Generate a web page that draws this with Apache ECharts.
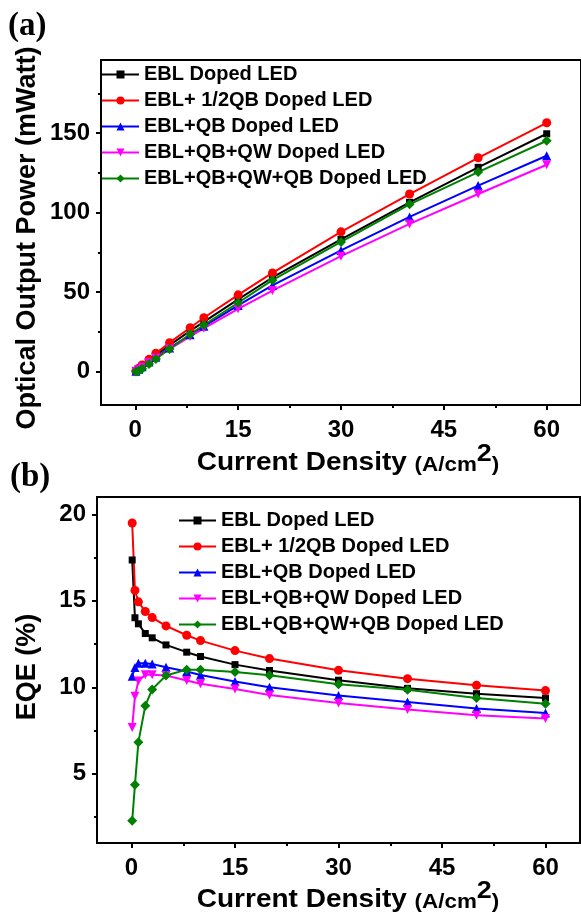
<!DOCTYPE html>
<html>
<head>
<meta charset="utf-8">
<title>LED power and EQE</title>
<script src="https://cdn.jsdelivr.net/npm/echarts@6/dist/echarts.min.js"></script>
<style>
  html, body { margin: 0; width: 100%; height: 100%; background: #fff; }
  #main { width: 581px; height: 917px; }
</style>
</head>
<body>
<div id="main"></div>
<script>
// current density (A/cm2)
var current = [0.1, 0.5, 1, 2, 3, 5, 8, 10, 15, 20, 30, 40, 50, 60];

var seriesNames = ['EBL Doped LED', 'EBL+ 1/2QB Doped LED', 'EBL+QB Doped LED',
                   'EBL+QB+QW Doped LED', 'EBL+QB+QW+QB Doped LED'];

// optical output power (mWatt)
var powerEBL    = [0.46, 1.9, 3.6, 7.0, 10.3, 16.6, 25.6, 31.3, 45.4, 59.2, 83.1, 106.5, 128.5, 149.6];
var powerHalfQB = [0.5, 2.1, 4.2, 7.7, 11.5, 18.2, 27.6, 33.9, 48.3, 62.1, 87.9, 111.7, 134.5, 156.5];
var powerQB     = [0.28, 1.48, 3.03, 6.05, 9.06, 14.8, 23.2, 28.5, 41.6, 54.2, 76.2, 97.3, 117, 135.8];
var powerQBQW   = [0.2, 1.26, 2.76, 5.71, 8.55, 14.2, 22.1, 27.2, 39.5, 51, 72.6, 92.9, 111.7, 130.1];
var powerQBQWQB = [0.06, 0.58, 1.82, 4.76, 7.9, 14.2, 23.5, 29.3, 43.3, 57.5, 81.6, 105.2, 125.5, 145.2];

// EQE (%)
var eqeEBL    = [17.36, 14.02, 13.67, 13.11, 12.86, 12.45, 12.03, 11.78, 11.31, 10.97, 10.41, 9.94, 9.63, 9.38];
var eqeHalfQB = [19.5, 15.6, 14.94, 14.38, 14.03, 13.55, 13.01, 12.7, 12.12, 11.66, 10.98, 10.5, 10.12, 9.81];
var eqeQB     = [10.64, 11.14, 11.39, 11.39, 11.35, 11.16, 10.91, 10.71, 10.33, 10.0, 9.52, 9.15, 8.78, 8.51];
var eqeQBQW   = [7.68, 9.48, 10.37, 10.73, 10.73, 10.68, 10.39, 10.21, 9.9, 9.56, 9.09, 8.71, 8.38, 8.19];
var eqeQBQWQB = [2.28, 4.36, 6.83, 8.94, 9.88, 10.68, 11.02, 11.02, 10.89, 10.7, 10.17, 9.86, 9.38, 9.05];

var xTicks = [0, 15, 30, 45, 60];
var xMinor = [7.5, 22.5, 37.5, 52.5];
var powerTicks = [0, 50, 100, 150];
var powerMinor = [25, 75, 125, 175];
var eqeTicks = [5, 10, 15, 20];
var eqeMinor = [2.5, 7.5, 12.5, 17.5];

var colors = ['#000000', '#ff0000', '#0000ff', '#ff00ff', '#008000'];
var symbols = ['rect', 'circle', 'triangle', 'path://M0,0 L10,0 L5,9 Z', 'diamond'];
var symbolSizes = [7, 9, 9, 9, 10];

var FONT = '"Liberation Sans", Arial, sans-serif';

function pairs(ys) {
  return current.map(function (x, i) { return [x, ys[i]]; });
}

function makeSeries(list, axisIndex) {
  return list.map(function (ys, i) {
    return {
      name: seriesNames[i],
      type: 'line',
      xAxisIndex: axisIndex * 2,
      yAxisIndex: axisIndex * 2,
      data: pairs(ys),
      symbol: symbols[i],
      symbolSize: symbolSizes[i],
      showAllSymbol: true,
      color: colors[i],
      lineStyle: { width: 2, color: colors[i] },
      itemStyle: { color: colors[i] },
      animation: false
    };
  });
}

function xAxes(grid) {
  return [{
    type: 'value', gridIndex: grid, min: -5, max: 65, position: 'bottom',
    splitLine: { show: false },
    axisLine: { onZero: false, lineStyle: { color: '#000', width: 2 } },
    axisTick: { customValues: xTicks, length: 5, lineStyle: { color: '#000', width: 2 } },
    axisLabel: { customValues: xTicks, margin: 13, color: '#000', fontSize: 24, fontWeight: 'bold', fontFamily: FONT }
  }, {
    type: 'value', gridIndex: grid, min: -5, max: 65, position: 'bottom',
    splitLine: { show: false },
    axisLine: { show: false, onZero: false },
    axisTick: { customValues: xMinor, length: 3, lineStyle: { color: '#000', width: 2 } },
    axisLabel: { show: false }
  }];
}

function yAxes(grid, min, max, ticks, minor) {
  return [{
    type: 'value', gridIndex: grid, min: min, max: max, position: 'left',
    splitLine: { show: false },
    axisLine: { onZero: false, lineStyle: { color: '#000', width: 2 } },
    axisTick: { customValues: ticks, length: 5, lineStyle: { color: '#000', width: 2 } },
    axisLabel: { customValues: ticks, margin: 11, color: '#000', fontSize: 24, fontWeight: 'bold', fontFamily: FONT }
  }, {
    type: 'value', gridIndex: grid, min: min, max: max, position: 'left',
    splitLine: { show: false },
    axisLine: { show: false, onZero: false },
    axisTick: { customValues: minor, length: 3, lineStyle: { color: '#000', width: 2 } },
    axisLabel: { show: false }
  }];
}

function legend(left, top) {
  return {
    orient: 'vertical', left: left, top: top, padding: 0,
    data: seriesNames,
    itemWidth: 37, itemHeight: 10, itemGap: 5,
    textStyle: { color: '#000', fontSize: 20, fontWeight: 'bold', fontFamily: FONT, lineHeight: 21 }
  };
}

function xTitle(y) {
  return {
    type: 'text', x: 348, y: y, scaleX: 1.12,
    style: {
      text: '{a|Current Density }{b|(A/cm}{c|2}{b|)}',
      align: 'center', verticalAlign: 'middle',
      rich: {
        a: { fontSize: 25, fontWeight: 'bold', fontFamily: FONT, fill: '#000', verticalAlign: 'bottom' },
        b: { fontSize: 20, fontWeight: 'bold', fontFamily: FONT, fill: '#000', verticalAlign: 'bottom' },
        c: { fontSize: 24, fontWeight: 'bold', fontFamily: FONT, fill: '#000', verticalAlign: 'bottom', padding: [0, 0, 9, 0] }
      }
    }
  };
}

function yTitle(text, y) {
  return {
    type: 'text', x: 28, y: y, rotation: Math.PI / 2,
    style: {
      text: text, align: 'center', verticalAlign: 'middle',
      fontSize: 27, fontWeight: 'bold', fontFamily: FONT, fill: '#000'
    }
  };
}

var chart = echarts.init(document.getElementById('main'), null, { renderer: 'canvas' });

var option = {
  backgroundColor: '#fff',
  animation: false,
  grid: [
    { left: 101, top: 60, width: 486, height: 345, show: true, borderColor: '#000', borderWidth: 2 },
    { left: 97, top: 497, width: 483, height: 346, show: true, borderColor: '#000', borderWidth: 2 }
  ],
  xAxis: xAxes(0).concat(xAxes(1)),
  yAxis: yAxes(0, -21, 196, powerTicks, powerMinor).concat(yAxes(1, 1, 21, eqeTicks, eqeMinor)),
  legend: [legend(101, 64), legend(178, 510)],
  series: makeSeries([powerEBL, powerHalfQB, powerQB, powerQBQW, powerQBQWQB], 0)
    .concat(makeSeries([eqeEBL, eqeHalfQB, eqeQB, eqeQBQW, eqeQBQWQB], 1)),
  graphic: [
    { type: 'text', left: 8, top: 10, style: { text: '(a)', fontSize: 33, fontWeight: 'bold', fontFamily: '"Liberation Serif", "Times New Roman", serif', fill: '#000' } },
    { type: 'text', left: 10, top: 461, style: { text: '(b)', fontSize: 33, fontWeight: 'bold', fontFamily: '"Liberation Serif", "Times New Roman", serif', fill: '#000' } },
    yTitle('Optical Output Power (mWatt)', 238),
    yTitle('EQE (%)', 667),
    xTitle(459),
    xTitle(896)
  ]
};

chart.setOption(option);
</script>
</body>
</html>
